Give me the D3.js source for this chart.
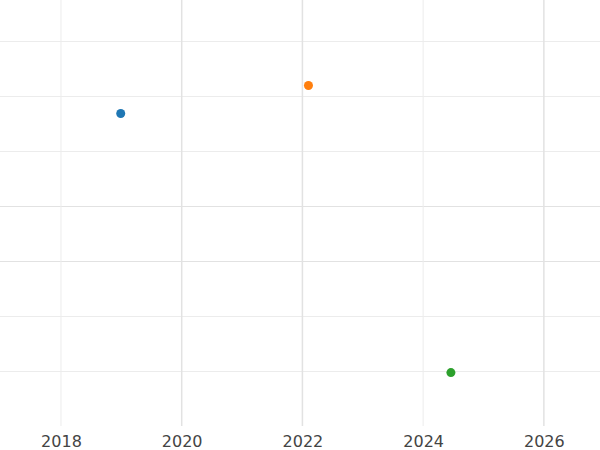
<!DOCTYPE html>
<html><head><meta charset="utf-8">
<script src="https://cdn.jsdelivr.net/npm/d3@7"></script>
<style>body{margin:0;background:#fff}</style></head>
<body><svg id="c" width="600" height="450"></svg>
<script>
const xs = [2018.99, 2022.1, 2024.46];
const ys = [5.69, 6.2, 0.98];
const colors = ["#1f77b4", "#ff7f0e", "#2ca02c"];
const xTicks = [2018, 2020, 2022, 2024, 2026];
const yTicks = [1, 2, 3, 4, 5, 6, 7];

const svg = d3.select("#c");
const x = d3.scaleLinear().domain([2016.99, 2026.93]).range([0, 600]);
const y = d3.scaleLinear().domain([0, 7.745]).range([426.5, 0.5]);

svg.append("g").selectAll("line").data(yTicks).join("line")
  .attr("x1", 0).attr("x2", 600).attr("y1", d => y(d)).attr("y2", d => y(d))
  .attr("stroke", d => (d === 3 || d === 4) ? "#e2e2e2" : "#ececec").attr("stroke-width", 1);
svg.append("g").selectAll("line").data(xTicks).join("line")
  .attr("x1", d => x(d)).attr("x2", d => x(d)).attr("y1", 0).attr("y2", 426)
  .attr("stroke", d => (d === 2018 || d === 2024) ? "#ececec" : "#e2e2e2").attr("stroke-width", d => (d === 2018 || d === 2024) ? 1 : 1.5);

const ax = svg.append("g").attr("transform", "translate(0,426)")
  .call(d3.axisBottom(x).tickValues(xTicks).tickFormat(d3.format("d")).tickSize(0).tickPadding(10));
ax.select(".domain").remove();
ax.selectAll("text").attr("font-family", "DejaVu Sans").attr("font-size", 16).attr("fill", "#444");

svg.append("g").selectAll("circle").data(xs).join("circle")
  .attr("cx", d => x(d)).attr("cy", (d, i) => y(ys[i])).attr("r", 4.5)
  .attr("fill", (d, i) => colors[i]);
</script></body></html>
